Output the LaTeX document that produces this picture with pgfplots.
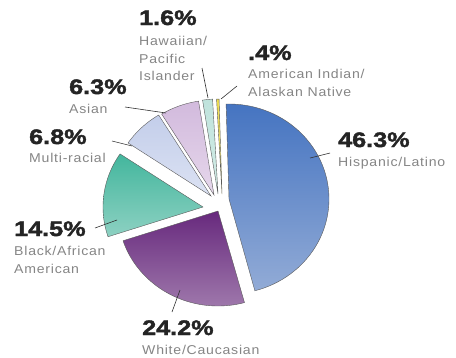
\documentclass[border=0pt]{standalone}
\usepackage{pgfplots}
\pgfplotsset{compat=1.18}
\usepackage{pgfplotstable}
\usepackage{fontspec}
\setmainfont{Liberation Sans}
\newfontfamily\pctfont[FakeStretch=1.2,FakeBold=2]{Liberation Sans}
\newfontfamily\lblfont[FakeStretch=1.1,LetterSpace=6]{Liberation Sans}

\definecolor{pcttext}{HTML}{242424}
\definecolor{lbltext}{HTML}{858585}
\definecolor{leader}{HTML}{333333}
\definecolor{edge}{HTML}{5A5A5A}
\definecolor{hisT}{HTML}{4574C1}
\definecolor{hisB}{HTML}{92ABD6}
\definecolor{whiT}{HTML}{67297D}
\definecolor{whiB}{HTML}{9E77AB}
\definecolor{blaT}{HTML}{43B69D}
\definecolor{blaB}{HTML}{8DD1C2}
\definecolor{mulT}{HTML}{C3CEEA}
\definecolor{mulB}{HTML}{DCE2F3}
\definecolor{asiT}{HTML}{D2BADD}
\definecolor{asiB}{HTML}{E6D7EB}
\definecolor{hawT}{HTML}{BFE3DC}
\definecolor{hawB}{HTML}{D3ECE7}
\definecolor{amiT}{HTML}{EFDE4E}
\definecolor{amiB}{HTML}{F6EC8E}

\pgfplotstableread{
group value
Hispanic 46.3
AmIndian 0.4
Hawaiian 1.6
Asian 6.3
Multi 6.8
Black 14.5
White 24.2
}\pietable

\newcommand{\rx}{100}
\newcommand{\ry}{95}
% #1 start angle, #2 end angle, #3 apex x, #4 apex y, #5 top colour, #6 bottom colour
\newcommand{\slice}[6]{%
  \addplot[draw=edge, line width=0.4pt, mark=none, top color=#5, bottom color=#6,
    domain=#1:#2, samples=60, variable=\t]
    ({#3+\rx*cos(\t)},{#4+\ry*sin(\t)}) -- (axis cs:#3,#4) -- cycle;
}
\newcommand{\pct}[3]{\node[anchor=base west, inner sep=0pt, text=pcttext,
  font=\pctfont\bfseries\fontsize{21bp}{21bp}\selectfont] at (axis cs:#1,#2) {#3};}
\newcommand{\lbl}[3]{\node[anchor=base west, inner sep=0pt, text=lbltext,
  font=\lblfont\fontsize{12.8bp}{14bp}\selectfont] at (axis cs:#1,#2) {#3};}

\begin{document}
\begin{tikzpicture}
\pgfmathsetmacro\aZero{-75}
\pgfplotstablegetelem{0}{value}\of\pietable \pgfmathsetmacro\aA{\aZero+3.6*\pgfplotsretval}
\pgfplotstablegetelem{1}{value}\of\pietable \pgfmathsetmacro\aB{\aA+3.6*\pgfplotsretval}
\pgfplotstablegetelem{2}{value}\of\pietable \pgfmathsetmacro\aC{\aB+3.6*\pgfplotsretval}
\pgfplotstablegetelem{3}{value}\of\pietable \pgfmathsetmacro\aD{\aC+3.6*\pgfplotsretval}
\pgfplotstablegetelem{4}{value}\of\pietable \pgfmathsetmacro\aE{\aD+3.6*\pgfplotsretval}
\pgfplotstablegetelem{5}{value}\of\pietable \pgfmathsetmacro\aF{\aE+3.6*\pgfplotsretval}
\pgfplotstablegetelem{6}{value}\of\pietable \pgfmathsetmacro\aG{\aF+3.6*\pgfplotsretval}
\begin{axis}[x=1bp, y=1bp, xmin=0, xmax=456, ymin=0, ymax=357,
  hide axis, clip=false]
  \slice{\aZero}{\aA}{229}{158}{hisT}{hisB}
  \slice{\aA}{\aB}{222}{163}{amiT}{amiB}
  \slice{\aB}{\aC}{218}{163}{hawT}{hawB}
  \slice{\aC}{\aD}{214}{162}{asiT}{asiB}
  \slice{\aD}{\aE}{211}{161}{mulT}{mulB}
  \slice{\aE}{\aF}{203}{150}{blaT}{blaB}
  \slice{\aF}{\aG}{218}{146}{whiT}{whiB}

  \draw[leader, line width=0.6pt] (axis cs:310,199) -- (axis cs:330,204);
  \draw[leader, line width=0.6pt] (axis cs:221,258) -- (axis cs:237,271);
  \draw[leader, line width=0.6pt] (axis cs:208,259) -- (axis cs:202,289);
  \draw[leader, line width=0.6pt] (axis cs:166,244) -- (axis cs:125,250);
  \draw[leader, line width=0.6pt] (axis cs:132,211) -- (axis cs:112,216);
  \draw[leader, line width=0.6pt] (axis cs:117,137) -- (axis cs:95,129);
  \draw[leader, line width=0.6pt] (axis cs:180,67) -- (axis cs:172,45);

  \pct{338}{210}{46.3\%}
  \lbl{338}{191}{Hispanic/Latino}
  \pct{248}{297}{.4\%}
  \lbl{248}{279}{American Indian/}
  \lbl{248}{261}{Alaskan Native}
  \pct{139}{332}{1.6\%}
  \lbl{139}{312}{Hawaiian/}
  \lbl{139}{294}{Pacific}
  \lbl{139}{277}{Islander}
  \pct{69}{263}{6.3\%}
  \lbl{69}{244}{Asian}
  \pct{29}{213}{6.8\%}
  \lbl{29}{195}{Multi-racial}
  \pct{14}{121}{14.5\%}
  \lbl{14}{102}{Black/African}
  \lbl{14}{84}{American}
  \pct{142}{22}{24.2\%}
  \lbl{142}{3}{White/Caucasian}
\end{axis}
\pgfresetboundingbox
\path (current axis.south west) rectangle (current axis.north east);
\end{tikzpicture}
\end{document}
